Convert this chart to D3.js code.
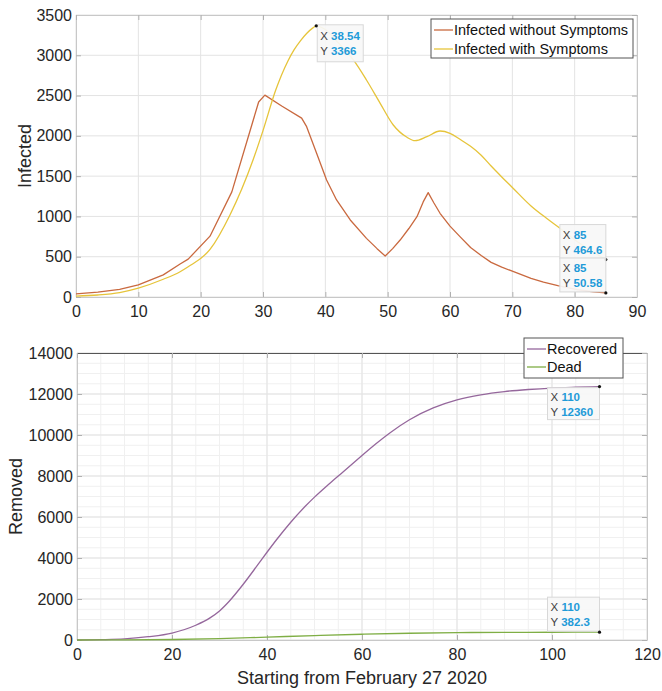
<!DOCTYPE html>
<html>
<head>
<meta charset="utf-8">
<script src="https://cdn.jsdelivr.net/npm/d3@7/dist/d3.min.js"></script>
<style>
  html, body { margin: 0; padding: 0; background: #fff; }
  svg { display: block; font-family: "Liberation Sans", Arial, Helvetica, sans-serif; }
</style>
</head>
<body>
<svg id="chart" width="662" height="691"></svg>
<script>
// ---- Infected compartments (days since start, persons) ----
const infectedNoSymptoms = [
  [0, 38], [3.5, 60], [7, 95], [10, 150], [14, 275], [16.7, 410], [18, 470],
  [21.5, 755], [25, 1305], [29.3, 2420], [30.3, 2505], [33, 2370], [36.2, 2220],
  [37, 2114], [38.6, 1783], [40.2, 1452], [41.8, 1204], [44, 956], [46.6, 728],
  [48.3, 600], [49.6, 509], [50.8, 600], [52, 707], [53.4, 850], [54.7, 997],
  [55.7, 1180], [56.5, 1295], [57.4, 1170], [58.4, 1039], [60, 880], [61.6, 749],
  [63.3, 614], [65, 515], [66.6, 430], [68.3, 370], [70, 320], [73, 230],
  [75, 185], [77.3, 140], [80.5, 90], [83, 65], [85, 50.58]
];
const infectedSymptoms = [
  [0, 12], [3.5, 25], [7, 55], [10, 110], [14, 220], [16.7, 314], [18, 375],
  [21.5, 590], [24.7, 1018], [28.4, 1700], [30, 2065], [32, 2560], [34, 2930],
  [35, 3070], [36, 3180], [37, 3270], [38, 3340], [38.54, 3366], [40, 3320],
  [42, 3160], [44.5, 2942], [46.6, 2693], [48.8, 2404], [50.9, 2135], [53.1, 1982],
  [54.4, 1940], [56.3, 1990], [58.4, 2060], [60, 2032], [61.6, 1957], [63.3, 1870],
  [65, 1760], [66.6, 1625], [68.3, 1490], [70, 1360], [73, 1130], [75.7, 965],
  [77.8, 845], [80, 710], [82.5, 580], [85, 464.6]
];

// ---- Removed compartments ----
const recovered = [
  [0, 0], [5, 15], [10, 50], [15, 160], [20, 340], [25, 720], [28, 1080],
  [30, 1420], [32, 1880], [35, 2720], [38, 3650], [40, 4280], [42, 4890],
  [45, 5745], [48, 6510], [50, 6970], [53, 7600], [56, 8200], [60, 9000],
  [63, 9585], [66, 10125], [70, 10745], [75, 11320], [80, 11710], [85, 11960],
  [90, 12120], [95, 12220], [100, 12290], [105, 12330], [110, 12360]
];
const dead = [
  [0, 0], [10, 8], [20, 25], [30, 65], [40, 140], [50, 215], [60, 280],
  [70, 330], [80, 360], [90, 373], [100, 379], [110, 382.3]
];

// Tick values
const topXTicks = d3.range(0, 91, 10);
const topYTicks = d3.range(0, 3501, 500);
const botXTicks = d3.range(0, 121, 20);
const botYTicks = d3.range(0, 14001, 2000);
const botXMinor = d3.range(0, 121, 5);
const botYMinor = d3.range(0, 14001, 500);

const topLegend = ["Infected without Symptoms", "Infected with Symptoms"];
const botLegend = ["Recovered", "Dead"];

// Data tips: [x, y, placement]
const topTips = [[38.54, 3366, "se"], [85, 464.6, "nw"], [85, 50.58, "nw"]];
const botTips = [[110, 12360, "sw"], [110, 382.3, "nw"]];

const colors = {
  noSym: "#c9693f",
  sym: "#e6c43a",
  rec: "#95679c",
  dead: "#7fae45"
};

const svg = d3.select("#chart");
const fmtTick = d3.format("d");

function drawPanel(cfg) {
  const { x, y, xTicks, yTicks, xMinor, yMinor } = cfg;
  const [x0, x1] = x.range();
  const [y0, y1] = y.range(); // y0 bottom, y1 top
  const g = svg.append("g");

  if (xMinor) {
    g.append("g").selectAll("line").data(xMinor).join("line")
      .attr("x1", d => x(d)).attr("x2", d => x(d))
      .attr("y1", y0).attr("y2", y1)
      .attr("stroke", "#f0f0f0").attr("stroke-width", 1);
    g.append("g").selectAll("line").data(yMinor).join("line")
      .attr("x1", x0).attr("x2", x1)
      .attr("y1", d => y(d)).attr("y2", d => y(d))
      .attr("stroke", "#f0f0f0").attr("stroke-width", 1);
  }
  // major grid
  g.append("g").selectAll("line").data(xTicks).join("line")
    .attr("x1", d => x(d)).attr("x2", d => x(d))
    .attr("y1", y0).attr("y2", y1)
    .attr("stroke", "#e3e3e3").attr("stroke-width", 1);
  g.append("g").selectAll("line").data(yTicks).join("line")
    .attr("x1", x0).attr("x2", x1)
    .attr("y1", d => y(d)).attr("y2", d => y(d))
    .attr("stroke", "#e3e3e3").attr("stroke-width", 1);

  // axes (inward ticks)
  const ax = g.append("g").attr("transform", `translate(0,${y0})`)
    .call(d3.axisBottom(x).tickValues(xTicks).tickFormat(fmtTick)
      .tickSize(-5).tickPadding(9).tickSizeOuter(0));
  const ay = g.append("g").attr("transform", `translate(${x0},0)`)
    .call(d3.axisLeft(y).tickValues(yTicks).tickFormat(fmtTick)
      .tickSize(-5).tickPadding(4).tickSizeOuter(0));
  const axT = g.append("g").attr("transform", `translate(0,${y1})`)
    .call(d3.axisTop(x).tickValues(xTicks).tickSize(-5).tickFormat("").tickSizeOuter(0));
  const ayR = g.append("g").attr("transform", `translate(${x1},0)`)
    .call(d3.axisRight(y).tickValues(yTicks).tickSize(-5).tickFormat("").tickSizeOuter(0));
  [ax, ay, axT, ayR].forEach(a => {
    a.select(".domain").attr("stroke", "#c8c8c8");
    a.selectAll(".tick line").attr("stroke", "#b0b0b0");
    a.selectAll("text").attr("fill", "#262626").attr("font-size", 16)
      .attr("font-family", "Liberation Sans, Arial, sans-serif");
  });
  axT.select(".domain").attr("stroke", cfg.topColor || "#c8c8c8");
  return g;
}

function drawLine(g, data, x, y, color, curve) {
  g.append("path").datum(data)
    .attr("fill", "none").attr("stroke", color).attr("stroke-width", 1.3)
    .attr("stroke-linejoin", "round")
    .attr("d", d3.line().x(d => x(d[0])).y(d => y(d[1])).curve(curve));
}

function drawTip(g, tip, x, y, w, h) {
  const [tx, ty, place] = tip;
  const px = x(tx), py = y(ty);
  let bx, by;
  if (place === "se") { bx = px + 1; by = py - 1; }
  else if (place === "nw") { bx = px - w; by = py - h - 1; }
  else { bx = px - w; by = py + 1; }
  const t = g.append("g");
  t.append("rect").attr("x", bx).attr("y", by).attr("width", w).attr("height", h)
    .attr("fill", "#f7f7f7").attr("fill-opacity", 0.92)
    .attr("stroke", "#d8d8d8").attr("stroke-width", 1);
  const rows = [["X", String(tx)], ["Y", String(ty)]];
  rows.forEach((r, i) => {
    const txt = t.append("text").attr("x", bx + 3).attr("y", by + h / 2 - 3 + i * 15)
      .attr("font-size", 11.5).attr("fill", "#404040");
    txt.append("tspan").text(r[0] + " ");
    txt.append("tspan").attr("fill", "#1f9bd8").attr("font-weight", "bold").text(r[1]);
  });
  g.append("circle").attr("cx", px).attr("cy", py).attr("r", 1.6).attr("fill", "#111");
}

function drawLegend(g, items, cols, bx, by, w, h, rowGap) {
  const lg = g.append("g");
  lg.append("rect").attr("x", bx).attr("y", by).attr("width", w).attr("height", h)
    .attr("fill", "#fff").attr("stroke", "#555").attr("stroke-width", 1);
  items.forEach((name, i) => {
    const cy = by + 11 + i * rowGap;
    lg.append("line").attr("x1", bx + 3).attr("x2", bx + 22)
      .attr("y1", cy).attr("y2", cy).attr("stroke", cols[i]).attr("stroke-width", 1.3);
    lg.append("text").attr("x", bx + 23).attr("y", cy).attr("dy", "0.35em")
      .attr("font-size", 14.5).attr("fill", "#111").text(name);
  });
}

// ---- Top panel ----
const xTop = d3.scaleLinear().domain([0, 90]).range([76, 637]);
const yTop = d3.scaleLinear().domain([0, 3500]).range([297, 15]);
const gTop = drawPanel({ x: xTop, y: yTop, xTicks: topXTicks, yTicks: topYTicks });
drawLine(gTop, infectedNoSymptoms, xTop, yTop, colors.noSym, d3.curveLinear);
drawLine(gTop, infectedSymptoms, xTop, yTop, colors.sym, d3.curveMonotoneX);
gTop.append("text").attr("transform", `translate(31,${(15 + 297) / 2}) rotate(-90)`)
  .attr("text-anchor", "middle").attr("font-size", 18).attr("fill", "#262626").text("Infected");
drawLegend(gTop, topLegend, [colors.noSym, colors.sym], 431, 19, 202, 39, 19);
drawTip(gTop, topTips[0], xTop, yTop, 46, 37);
drawTip(gTop, topTips[1], xTop, yTop, 46, 34);
drawTip(gTop, topTips[2], xTop, yTop, 46, 34);

// ---- Bottom panel ----
const xBot = d3.scaleLinear().domain([0, 120]).range([77, 647]);
const yBot = d3.scaleLinear().domain([0, 14000]).range([640, 353]);
const gBot = drawPanel({ x: xBot, y: yBot, xTicks: botXTicks, yTicks: botYTicks,
  xMinor: botXMinor, yMinor: botYMinor, topColor: "#555" });
drawLine(gBot, recovered, xBot, yBot, colors.rec, d3.curveMonotoneX);
drawLine(gBot, dead, xBot, yBot, colors.dead, d3.curveMonotoneX);
gBot.append("text").attr("transform", `translate(22,${(353 + 640) / 2}) rotate(-90)`)
  .attr("text-anchor", "middle").attr("font-size", 18).attr("fill", "#262626").text("Removed");
gBot.append("text").attr("x", (77 + 647) / 2).attr("y", 684)
  .attr("text-anchor", "middle").attr("font-size", 18).attr("fill", "#262626")
  .text("Starting from February 27 2020");
drawLegend(gBot, botLegend, [colors.rec, colors.dead], 524, 338, 99, 40, 18);
drawTip(gBot, botTips[0], xBot, yBot, 52, 32);
drawTip(gBot, botTips[1], xBot, yBot, 52, 34);
</script>
</body>
</html>
